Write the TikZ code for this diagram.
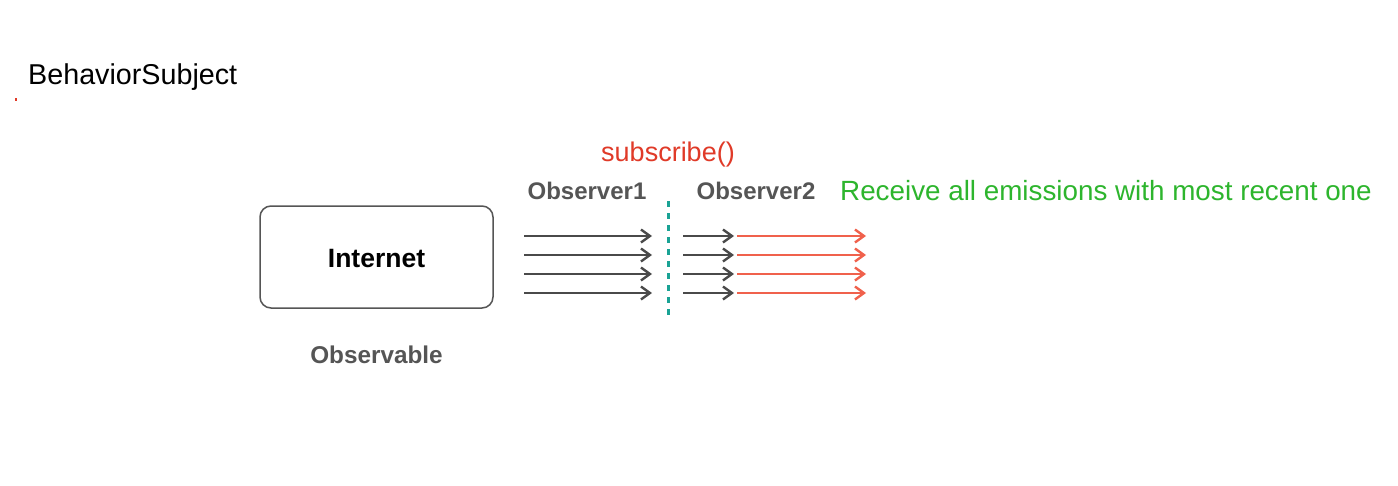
\documentclass[tikz,border=0pt]{standalone}
\usepackage{fontspec}
\setmainfont{Liberation Sans}
\usetikzlibrary{arrows.meta}
\definecolor{dgray}{HTML}{4A4A4A}
\definecolor{tgray}{HTML}{555555}
\definecolor{sred}{HTML}{E03A28}
\definecolor{ared}{HTML}{F0614C}
\definecolor{rgreen}{HTML}{2DB52D}
\definecolor{teal}{HTML}{1AA395}
\tikzset{
  px/.style={x=1pt,y=-1pt},
  garrow/.style={draw=dgray,line width=2.5pt,-{Straight Barb[length=9pt,width=13pt,line width=2.4pt]}},
  rarrow/.style={draw=ared,line width=2.5pt,-{Straight Barb[length=9pt,width=13pt,line width=2.4pt]}},
  lbl/.style={inner sep=0pt,anchor=center},
}
\begin{document}
\begin{tikzpicture}[px]
\useasboundingbox (0,0) rectangle (1398,485);
\fill[white] (0,0) rectangle (1398,485);
\node[lbl,anchor=west] (title) at (28,77) {\fontsize{28.7}{32}\selectfont BehaviorSubject};
\fill[sred] (14.5,97.5) rectangle (16.5,100.5);
\node[draw=tgray,line width=1.5pt,rounded corners=11pt,minimum width=233pt,minimum height=102pt,inner sep=0pt] (inet) at (376.5,257) {};
\node[lbl] (inettxt) at (376.5,259) {\fontsize{26.5}{30}\selectfont\bfseries Internet};
\node[lbl,text=tgray] (obs) at (376.5,355) {\fontsize{24.3}{28}\selectfont\bfseries Observable};
\node[lbl,text=sred] (sub) at (668,155) {\fontsize{27}{30}\selectfont subscribe()};
\node[lbl,text=tgray] (o1) at (587,191) {\fontsize{24}{28}\selectfont\bfseries Observer1};
\node[lbl,text=tgray] (o2) at (756,191) {\fontsize{24}{28}\selectfont\bfseries Observer2};
\node[lbl,anchor=west,text=rgreen] (rec) at (840,191) {\fontsize{27.8}{31}\selectfont Receive all emissions with most recent one};
\coordinate (dtop) at (668,201);
\coordinate (dbot) at (668,316);
\draw[teal,line width=3pt,dash pattern=on 6pt off 6pt] (dtop) -- (dbot);
\foreach \i/\y in {1/236,2/255,3/274,4/293}{
  \coordinate (a\i) at (524,\y);
  \coordinate (b\i) at (652,\y);
  \coordinate (c\i) at (683,\y);
  \coordinate (d\i) at (734,\y);
  \coordinate (e\i) at (737,\y);
  \coordinate (f\i) at (866,\y);
  \draw[garrow] (a\i) -- (b\i);
  \draw[garrow] (c\i) -- (d\i);
  \draw[rarrow] (e\i) -- (f\i);
}
\end{tikzpicture}
\end{document}
